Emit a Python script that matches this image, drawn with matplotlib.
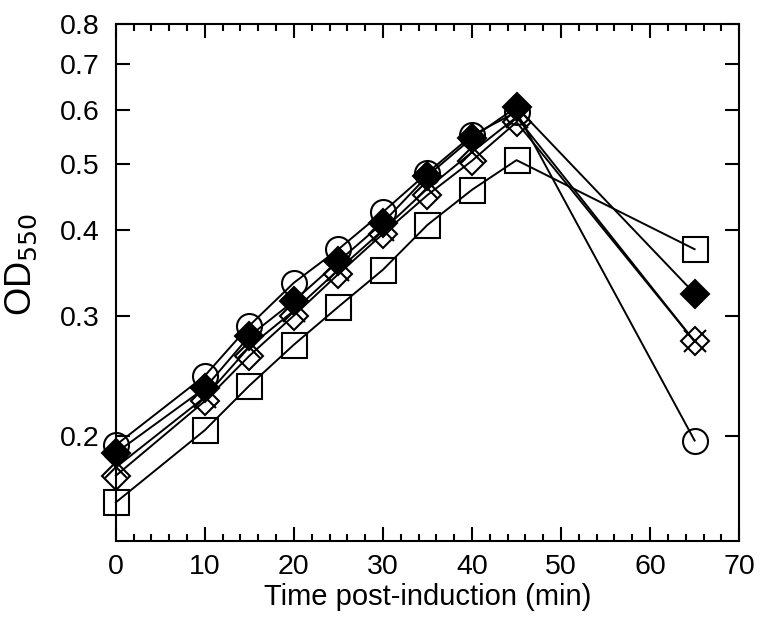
import numpy as np
import matplotlib.pyplot as plt
from matplotlib.ticker import FixedLocator, NullFormatter, MultipleLocator

plt.rcParams['font.family'] = ['Liberation Sans', 'DejaVu Sans']

time = [0, 10, 15, 20, 25, 30, 35, 40, 45, 65]

od_circle = [0.194, 0.245, 0.29, 0.335, 0.375, 0.425, 0.485, 0.55, 0.595, 0.197]
od_filled = [0.189, 0.235, 0.28, 0.315, 0.36, 0.41, 0.48, 0.545, 0.605, 0.323]
od_cross = [0.180, 0.228, 0.27, 0.305, 0.35, 0.40, 0.46, 0.52, 0.585, 0.275]
od_diamond = [0.175, 0.225, 0.262, 0.30, 0.345, 0.395, 0.45, 0.505, 0.575, 0.275]
od_square = [0.160, 0.204, 0.237, 0.272, 0.309, 0.350, 0.407, 0.458, 0.506, 0.375]

yticks = [0.2, 0.3, 0.4, 0.5, 0.6, 0.7, 0.8]

fig = plt.figure(figsize=(7.62, 6.25), dpi=100)
ax = fig.add_axes([0.152, 0.1344, 0.818, 0.8272])

ms = 18
kw = dict(color='k', lw=1.4, mec='k', mew=1.5, clip_on=False)
ax.plot(time, od_square, marker='s', ms=ms, mfc='none', **kw)
ax.plot(time, od_circle, marker='o', ms=ms, mfc='none', **kw)
ax.plot(time, od_diamond, marker='D', ms=ms * 0.78, mfc='none', **kw)
ax.plot(time, od_cross, marker='x', ms=ms * 0.85, **kw)
ax.plot(time, od_filled, marker='D', ms=ms * 0.78, mfc='k', **kw)

ax.set_yscale('log')
ax.set_ylim(0.1405, 0.8)
ax.set_xlim(0, 70)

ax.yaxis.set_major_locator(FixedLocator(yticks))
ax.yaxis.set_minor_locator(FixedLocator([]))
ax.set_yticklabels([str(t) for t in yticks])
ax.yaxis.set_minor_formatter(NullFormatter())
ax.xaxis.set_major_locator(MultipleLocator(10))
ax.xaxis.set_minor_locator(MultipleLocator(2))

ax.tick_params(which='both', direction='in', top=True, right=True,
               labelsize=20.5, width=1.5)
ax.tick_params(axis='x', pad=9)
ax.tick_params(axis='y', pad=12)
ax.tick_params(which='major', length=10)
ax.tick_params(which='minor', length=5)
for s in ax.spines.values():
    s.set_linewidth(1.5)

ax.set_xlabel('Time post-induction (min)', fontsize=21)
ax.xaxis.set_label_coords(0.5, -0.082)
ax.set_ylabel('OD$_{550}$', fontsize=26, va='center')
ax.yaxis.set_label_coords(-0.152, 0.535)

fig.savefig('out.png', dpi=100)
